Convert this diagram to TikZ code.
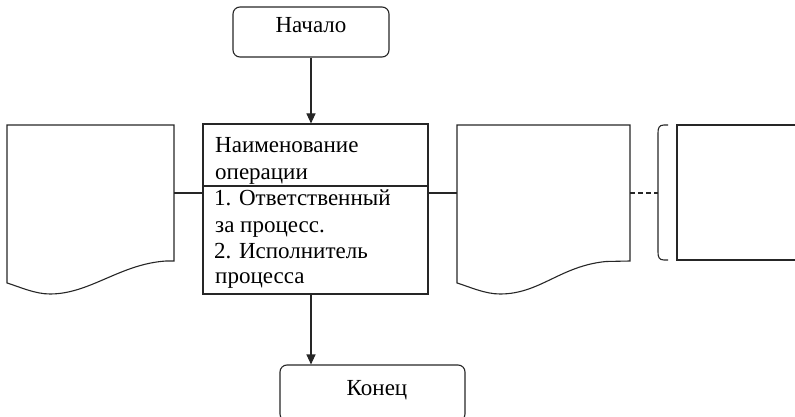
\documentclass[tikz,border=0pt]{standalone}
\usepackage{fontspec}
\setmainfont{Liberation Serif}
\usetikzlibrary{arrows.meta}
\begin{document}
\begin{tikzpicture}[x=1pt,y=-1pt,
  line/.style={draw=black!85, line width=1.1pt},
  term/.style={line, rounded corners=7pt, inner sep=0pt},
  conn/.style={line},
  arr/.style={line, -{Triangle[length=10pt,width=9pt]}},
  txt/.style={font=\fontsize{23}{26}\selectfont, inner sep=0pt, anchor=base west},
  ctxt/.style={font=\fontsize{23}{26}\selectfont, inner sep=0pt, anchor=base},
  box/.style={line, inner sep=0pt}]
\useasboundingbox (0,0) rectangle (795,417);
\begin{scope}
\clip (0,0) rectangle (795,417);
% start / end
\node[term, minimum width=156pt, minimum height=50pt] (start) at (311,32) {};
\node[ctxt] (starttxt) at (311,33) {Начало};
\node[term, minimum width=185pt, minimum height=56pt] (end) at (372.5,393) {};
\node[ctxt] (endtxt) at (377,395) {Конец};
% main operation box
\node[box, minimum width=225pt, minimum height=170pt] (main) at (315.5,209) {};
\coordinate (divL) at (203,186);
\coordinate (divR) at (428,186);
\draw[line] (divL) -- (divR);
\node[txt] (t1) at (215,153) {Наименование};
\node[txt] (t2) at (215,179) {операции};
\node[txt] (b1) at (214,205) {1. Ответственный};
\node[txt] (b2) at (215,232) {за процесс.};
\node[txt] (b3) at (214,258) {2. Исполнитель};
\node[txt] (b4) at (215,283) {процесса};
% left document
\node[minimum width=167pt, minimum height=169pt, inner sep=0pt] (ldoc) at (90.5,209.5) {};
\draw[line] (7,283) -- (7,125) -- (174,125) -- (174,261) -- (166,261)
  .. controls (120,264) and (90,294) .. (50,294)
  .. controls (35,294) and (20,287) .. (7,283) -- cycle;
% right document
\node[minimum width=173pt, minimum height=169pt, inner sep=0pt] (rdoc) at (543.5,209.5) {};
\draw[line] (457,283) -- (457,125) -- (630,125) -- (630,261) -- (606,261.5)
  .. controls (560,266) and (540,294) .. (500,294)
  .. controls (485,294) and (470,287) .. (457,283) -- cycle;
% bracket and right box
\coordinate (brk) at (658,193);
\draw[line] (668,125) -- (664,125) .. controls (659,125) and (658,128) .. (658,133)
  -- (658,252) .. controls (658,257) and (659,260) .. (664,260) -- (668,260);
\coordinate (rboxT) at (677,125);
\draw[line] (810,125) -- (677,125) -- (677,260) -- (810,260);
\end{scope}
% connectors
\coordinate (cl) at (ldoc.east |- 0,193);
\coordinate (cm) at (main.west |- 0,193);
\coordinate (cr) at (main.east |- 0,193);
\coordinate (cd) at (rdoc.west |- 0,193);
\coordinate (ce) at (rdoc.east |- 0,193);
\draw[conn] (cl) -- (cm);
\draw[conn] (cr) -- (cd);
\draw[conn, dashed, dash pattern=on 5pt off 3pt] (ce) -- (brk);
\draw[arr] (start.south) -- (start.south |- main.north);
\draw[arr] (main.south -| start.south) -- (start.south |- end.north);
\end{tikzpicture}
\end{document}
